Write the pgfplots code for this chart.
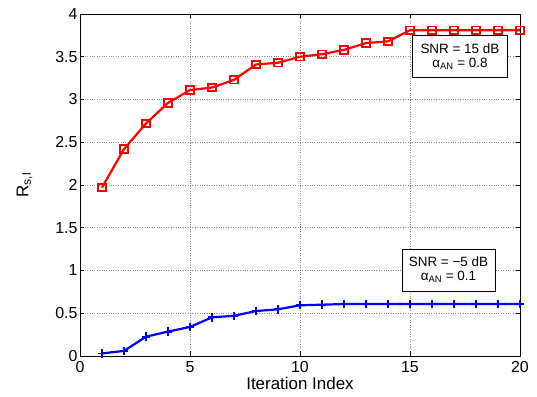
\documentclass[border=0pt]{standalone}
\usepackage{fontspec}
\setmainfont{Liberation Sans}
\usepackage{pgfplots}
\pgfplotsset{compat=1.18}
\begin{document}
\begin{tikzpicture}
\begin{axis}[name=ax,
  scale only axis, width=440bp, height=342bp,
  xmin=0, xmax=20, ymin=0, ymax=4,
  xtick={0,5,10,15,20}, ytick={0,0.5,1,1.5,2,2.5,3,3.5,4},
  grid=major, grid style={dotted, gray!90, line width=0.7bp},
  tick align=inside, major tick length=4.5bp,
  tick style={black, line width=0.6bp},
  axis line style={black, line width=0.8bp},
  /pgf/number format/assume math mode=true,
  ticklabel style={font=\fontsize{16}{18}\selectfont},
  xticklabel style={yshift=-2bp},
  yticklabel style={xshift=1bp},
  xlabel={Iteration Index}, ylabel={R\textsubscript{s,l}},
  label style={font=\fontsize{17}{19}\selectfont},
  xlabel style={inner sep=0pt, yshift=-0.5bp},
  ylabel style={yshift=16bp},
  clip=false,
]
\addplot[red, line width=2.2bp, mark=square, mark size=3.7bp, mark options={line width=1.8bp, solid}]
coordinates {(1,1.97) (2,2.42) (3,2.72) (4,2.96) (5,3.11) (6,3.14) (7,3.23) (8,3.41) (9,3.43) (10,3.50) (11,3.53) (12,3.58) (13,3.66) (14,3.68) (15,3.81) (16,3.81) (17,3.81) (18,3.81) (19,3.81) (20,3.81)};
\addplot[blue, line width=2.2bp, mark=+, mark size=4.2bp, mark options={line width=1.8bp, solid}]
coordinates {(1,0.03) (2,0.06) (3,0.226) (4,0.285) (5,0.34) (6,0.452) (7,0.47) (8,0.526) (9,0.546) (10,0.593) (11,0.60) (12,0.608) (13,0.608) (14,0.608) (15,0.608) (16,0.608) (17,0.608) (18,0.608) (19,0.608) (20,0.608)};
\node[draw=black, fill=white, line width=0.7bp, minimum width=95bp, minimum height=42bp, inner sep=1bp, align=center, font=\fontsize{13.5}{14}\selectfont] at (axis cs:17.27,3.50) {SNR = 15 dB\\α\textsubscript{AN} = 0.8};
\node[draw=black, fill=white, line width=0.7bp, minimum width=93bp, minimum height=42bp, inner sep=1bp, align=center, font=\fontsize{13.5}{14}\selectfont] at (axis cs:16.75,1.006) {SNR = −5 dB\\α\textsubscript{AN} = 0.1};
\end{axis}
\path ([shift={(-80bp,-41bp)}]ax.south west) rectangle ([shift={(17bp,14bp)}]ax.north east);
\end{tikzpicture}
\end{document}
